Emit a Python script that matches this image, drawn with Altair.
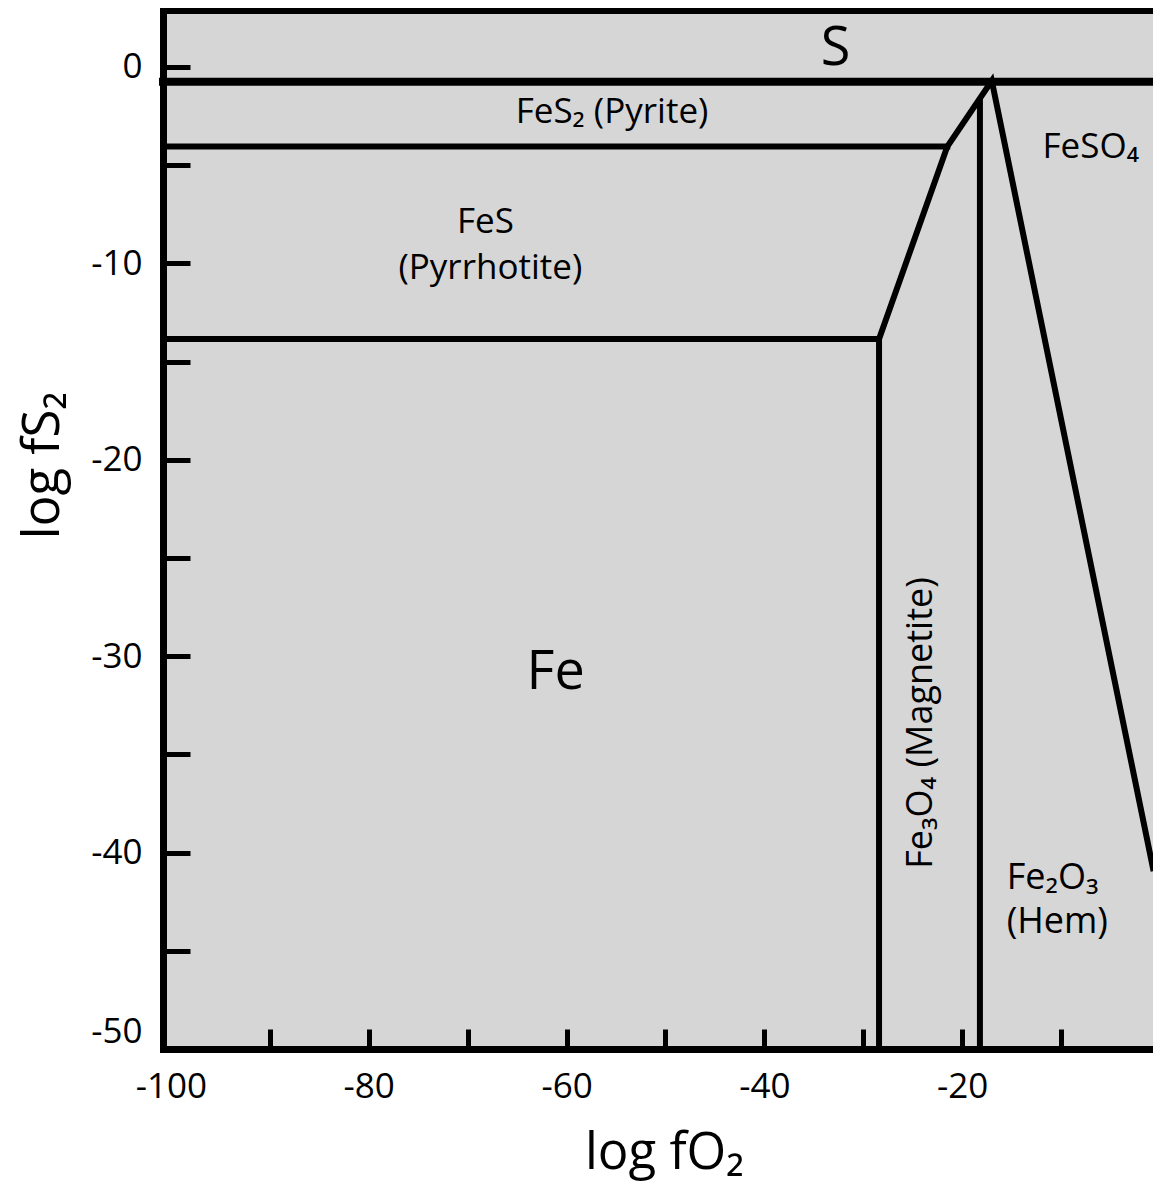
import altair as alt
import pandas as pd

FONT = "Open Sans"

# Axis ranges (log units)
x_domain = [-100.8, -0.7]
y_domain = [-50, 2.85]

x_tick_values = [-100, -90, -80, -70, -60, -50, -40, -30, -20, -10]
y_tick_values = [0, -5, -10, -15, -20, -25, -30, -35, -40, -45, -50]

# Phase boundaries as polylines of (log fO2, log fS2)
s_line_x = [-100.8, -0.7]
s_line_y = [-0.75, -0.75]

pyrite_fes_x = [-100.8, -21.5]
pyrite_fes_y = [-4.05, -4.05]

chain_x = [-100.8, -28.4, -21.5, -17.0, -0.7]
chain_y = [-13.85, -13.85, -4.05, -0.7, -40.8]

fe_mt_x = [-28.4, -28.4]
fe_mt_y = [-13.85, -50]

mt_hem_x = [-18.2, -18.2]
mt_hem_y = [-1.8, -50]

# Field labels
big_text = ["S", "Fe"]
big_x = [-32.8, -61.1]
big_y = [0.1, -31.65]

mid_text = ["FeS₂ (Pyrite)", "FeSO₄", "FeS", "(Pyrrhotite)"]
mid_x = [-55.4, -7.0, -68.2, -67.7]
mid_y = [-2.85, -4.64, -8.45, -10.8]

hem_text = ["Fe₂O₃", "(Hem)"]
hem_x = [-15.5, -15.5]
hem_y = [-41.84, -44.1]

mag_text = ["Fe₃O₄ (Magnetite)"]
mag_x = [-23.0]
mag_y = [-33.4]


def polyline(name, xs, ys):
    return pd.DataFrame({"id": name, "i": range(len(xs)), "x": xs, "y": ys})


boundaries = pd.concat([
    polyline("pyrite_fes", pyrite_fes_x, pyrite_fes_y),
    polyline("chain", chain_x, chain_y),
    polyline("fe_mt", fe_mt_x, fe_mt_y),
    polyline("mt_hem", mt_hem_x, mt_hem_y),
])
s_boundary = polyline("s", s_line_x, s_line_y)

x_axis = alt.Axis(
    values=x_tick_values,
    labelExpr="datum.value % 20 == 0 ? '' + datum.value : ''",
    tickSize=alt.ExprRef("-20"),
    tickWidth=5,
    tickColor={"condition": {"test": "datum.value == -100", "value": "transparent"}, "value": "black"},
    domainColor="black",
    domainWidth=7,
    domainCap="square",
    labelPadding=40,
    labelFontSize=35,
    labelColor="black",
    labelFlush=False,
    grid=False,
    title="log fO₂",
    titleFontSize=51,
    titleFontWeight="normal",
    titleColor="black",
    titleX=501,
    titleY=119,
    titleAlign="center",
    titleBaseline="alphabetic",
)

y_axis = alt.Axis(
    values=y_tick_values,
    labelExpr="datum.value % 10 == 0 ? '' + datum.value : ''",
    tickSize=alt.ExprRef("-27"),
    tickWidth=5,
    tickColor={"condition": {"test": "datum.value == -50", "value": "transparent"}, "value": "black"},
    labelOffset={"condition": {"test": "datum.value == -50", "value": -18}, "value": 0},
    domainColor="black",
    domainWidth=7,
    domainCap="square",
    labelPadding=48,
    labelFontSize=35,
    labelColor="black",
    grid=False,
    title="log fS₂",
    titleFontSize=51,
    titleFontWeight="normal",
    titleColor="black",
    titleAngle=270,
    titleX=-105,
    titleY=454,
    titleAlign="center",
    titleBaseline="alphabetic",
)

X = alt.X("x:Q", scale=alt.Scale(domain=x_domain, nice=False, zero=False), axis=x_axis)
Y = alt.Y("y:Q", scale=alt.Scale(domain=y_domain, nice=False, zero=False), axis=y_axis)

lines = alt.Chart(boundaries).mark_line(
    color="black", strokeWidth=6, strokeJoin="miter", strokeCap="square", clip=False
).encode(x=X, y=Y, detail="id:N", order="i:O")

s_line = alt.Chart(s_boundary).mark_line(
    color="black", strokeWidth=8, strokeCap="square"
).encode(x=X, y=Y, detail="id:N", order="i:O")

# Frame along the top of the plot
top_frame = alt.Chart(pd.DataFrame({"k": [0]})).mark_rule(
    color="black", strokeWidth=6, strokeCap="square"
).encode(x=alt.value(0), x2=alt.value(990), y=alt.value(0))


def labels(text, xs, ys, **style):
    df = pd.DataFrame({"t": text, "x": xs, "y": ys})
    return alt.Chart(df).mark_text(font=FONT, color="black", baseline="alphabetic", **style).encode(
        x=X, y=Y, text="t:N"
    )


big = labels(big_text, big_x, big_y, fontSize=54, align="center")
mid = labels(mid_text, mid_x, mid_y, fontSize=35, align="center")
hem = labels(hem_text, hem_x, hem_y, fontSize=36, align="left")
mag = labels(mag_text, mag_x, mag_y, fontSize=36, align="center", angle=270)

chart = (
    alt.layer(top_frame, s_line, lines, big, mid, hem, mag)
    .properties(
        width=990,
        height=1038,
        padding={"left": 163, "top": 11, "right": 0, "bottom": 135},
        autosize="none",
        background="white",
    )
    .configure_view(fill="#d6d6d6", stroke=None)
    .configure_axis(labelFont=FONT, titleFont=FONT)
)

chart.save("out.html", embed_options={"renderer": "svg", "actions": False})
